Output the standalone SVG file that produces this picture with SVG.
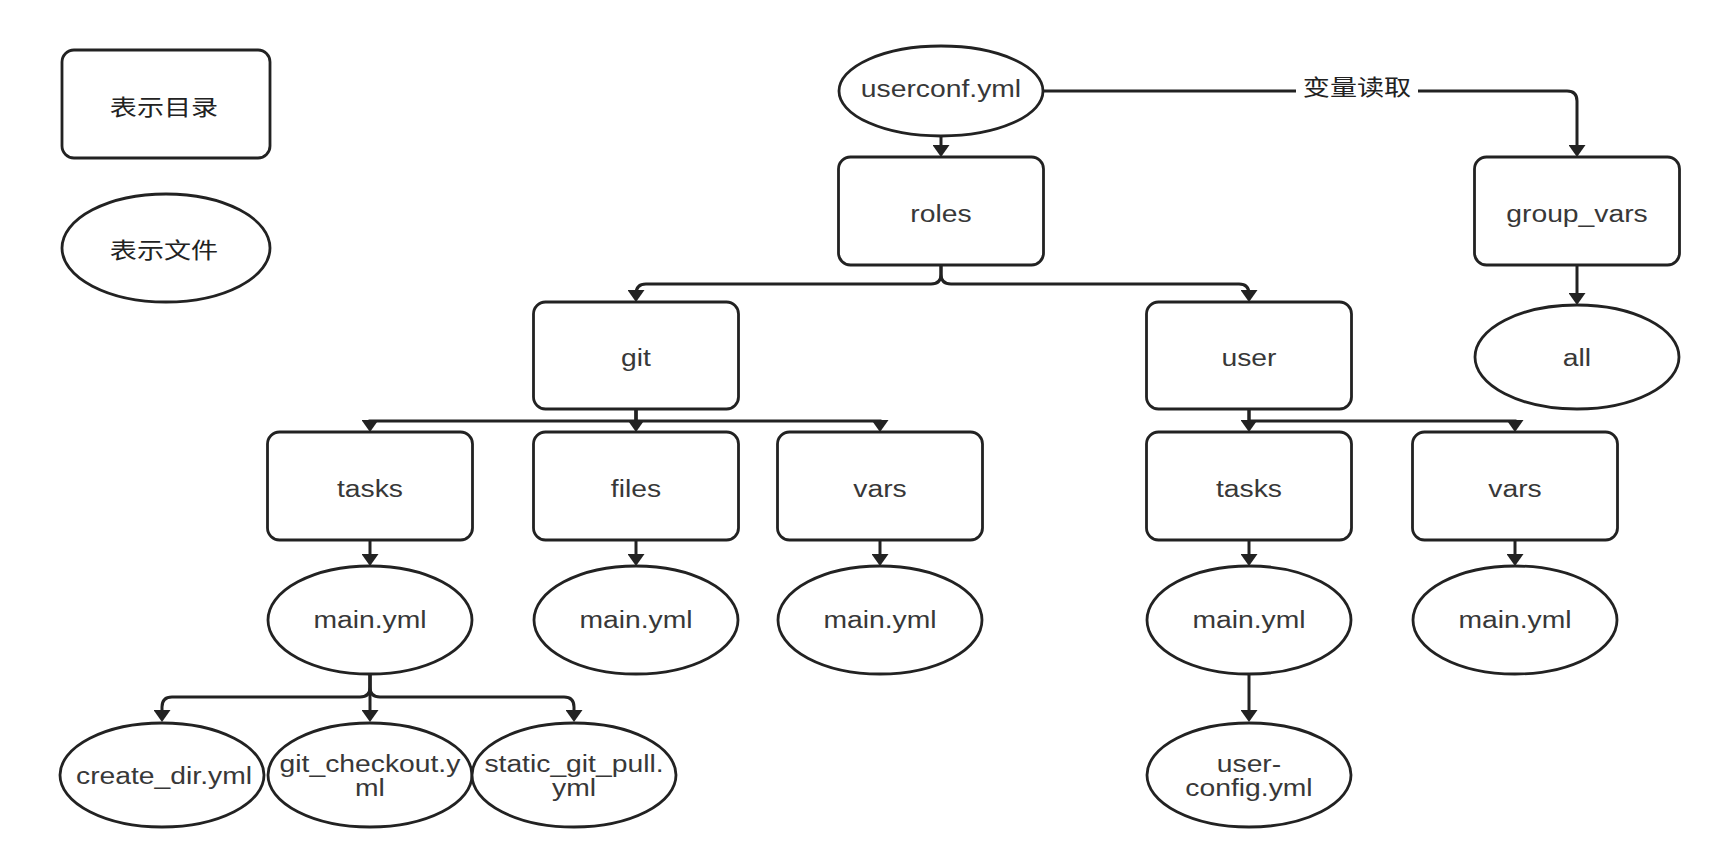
<svg xmlns="http://www.w3.org/2000/svg" width="1725" height="866" viewBox="0 0 1725 866">
<style>
  .box { fill: #ffffff; stroke: #222222; stroke-width: 2.8; }
  .edge { fill: none; stroke: #222222; stroke-width: 3; }
  text { font-family: "Liberation Sans", Arial, "Noto Sans CJK SC", sans-serif; font-size: 23px; fill: #383838; text-anchor: middle; transform-box: fill-box; transform-origin: center; transform: scaleX(1.23); }
  .cjk { font-family: "Liberation Sans", "Noto Sans CJK SC", sans-serif; font-size: 22px; fill: #222222; }
</style>
<defs>
  <marker id="arr" viewBox="0 0 12 17" refX="7" refY="8.5" markerWidth="12" markerHeight="17" orient="auto" markerUnits="userSpaceOnUse">
    <path d="M0,0 L12,8.5 L0,17 z" fill="#222222"/>
  </marker>
</defs>
<rect width="1725" height="866" fill="#ffffff"/>

<g id="connectors">
  <path class="edge" marker-end="url(#arr)" d="M941,136 V152"/>
  <path class="edge" marker-end="url(#arr)" d="M1043,91 H1567 Q1577,91 1577,101 V152"/>
  <path class="edge" marker-end="url(#arr)" d="M941,265 V274 Q941,284 931,284 H646 Q636,284 636,294 V297"/>
  <path class="edge" marker-end="url(#arr)" d="M941,265 V274 Q941,284 951,284 H1239 Q1249,284 1249,294 V297"/>
  <path class="edge" marker-end="url(#arr)" d="M1577,265 V300"/>
  <path class="edge" marker-end="url(#arr)" d="M636,409 V421 H370 V427"/>
  <path class="edge" marker-end="url(#arr)" d="M636,409 V427"/>
  <path class="edge" marker-end="url(#arr)" d="M636,409 V421 H880 V427"/>
  <path class="edge" marker-end="url(#arr)" d="M1249,409 V427"/>
  <path class="edge" marker-end="url(#arr)" d="M1249,409 V421 H1515 V427"/>
  <path class="edge" marker-end="url(#arr)" d="M370,540 V561"/>
  <path class="edge" marker-end="url(#arr)" d="M636,540 V561"/>
  <path class="edge" marker-end="url(#arr)" d="M880,540 V561"/>
  <path class="edge" marker-end="url(#arr)" d="M1249,540 V561"/>
  <path class="edge" marker-end="url(#arr)" d="M1515,540 V561"/>
  <path class="edge" marker-end="url(#arr)" d="M370,674 V687 Q370,697 360,697 H172 Q162,697 162,707 V717"/>
  <path class="edge" marker-end="url(#arr)" d="M370,674 V717"/>
  <path class="edge" marker-end="url(#arr)" d="M370,674 V687 Q370,697 380,697 H564 Q574,697 574,707 V717"/>
  <path class="edge" marker-end="url(#arr)" d="M1249,674 V717"/>
  <rect x="1296" y="74" width="122" height="30" fill="#ffffff"/>
  <text class="cjk" x="1357" y="95">变量读取</text>
</g>

<g id="legend-dir">
  <rect class="box" x="62" y="50" width="208" height="108" rx="12"/>
  <text class="cjk" x="164" y="115">表示目录</text>
</g>
<g id="legend-file">
  <ellipse class="box" cx="166" cy="248" rx="104" ry="54"/>
  <text class="cjk" x="164" y="258">表示文件</text>
</g>

<g id="userconf">
  <ellipse class="box" cx="941" cy="91" rx="102" ry="45"/>
  <text x="941" y="97">userconf.yml</text>
</g>
<g id="roles">
  <rect class="box" x="838.5" y="157" width="205" height="108" rx="12"/>
  <text x="941" y="222">roles</text>
</g>
<g id="group_vars">
  <rect class="box" x="1474.5" y="157" width="205" height="108" rx="12"/>
  <text x="1577" y="222">group_vars</text>
</g>
<g id="all">
  <ellipse class="box" cx="1577" cy="357" rx="102" ry="52"/>
  <text x="1577" y="366">all</text>
</g>
<g id="git">
  <rect class="box" x="533.5" y="302" width="205" height="107" rx="12"/>
  <text x="636" y="366">git</text>
</g>
<g id="user">
  <rect class="box" x="1146.5" y="302" width="205" height="107" rx="12"/>
  <text x="1249" y="366">user</text>
</g>
<g id="git-tasks">
  <rect class="box" x="267.5" y="432" width="205" height="108" rx="12"/>
  <text x="370" y="497">tasks</text>
</g>
<g id="git-files">
  <rect class="box" x="533.5" y="432" width="205" height="108" rx="12"/>
  <text x="636" y="497">files</text>
</g>
<g id="git-vars">
  <rect class="box" x="777.5" y="432" width="205" height="108" rx="12"/>
  <text x="880" y="497">vars</text>
</g>
<g id="user-tasks">
  <rect class="box" x="1146.5" y="432" width="205" height="108" rx="12"/>
  <text x="1249" y="497">tasks</text>
</g>
<g id="user-vars">
  <rect class="box" x="1412.5" y="432" width="205" height="108" rx="12"/>
  <text x="1515" y="497">vars</text>
</g>
<g id="git-tasks-main">
  <ellipse class="box" cx="370" cy="620" rx="102" ry="54"/>
  <text x="370" y="628">main.yml</text>
</g>
<g id="git-files-main">
  <ellipse class="box" cx="636" cy="620" rx="102" ry="54"/>
  <text x="636" y="628">main.yml</text>
</g>
<g id="git-vars-main">
  <ellipse class="box" cx="880" cy="620" rx="102" ry="54"/>
  <text x="880" y="628">main.yml</text>
</g>
<g id="user-tasks-main">
  <ellipse class="box" cx="1249" cy="620" rx="102" ry="54"/>
  <text x="1249" y="628">main.yml</text>
</g>
<g id="user-vars-main">
  <ellipse class="box" cx="1515" cy="620" rx="102" ry="54"/>
  <text x="1515" y="628">main.yml</text>
</g>
<g id="create_dir">
  <ellipse class="box" cx="162" cy="775" rx="102" ry="52"/>
  <text x="164" y="784">create_dir.yml</text>
</g>
<g id="git_checkout">
  <ellipse class="box" cx="370" cy="775" rx="102" ry="52"/>
  <text x="370" y="772"><tspan x="370">git_checkout.y</tspan><tspan x="370" dy="24">ml</tspan></text>
</g>
<g id="static_git_pull">
  <ellipse class="box" cx="574" cy="775" rx="102" ry="52"/>
  <text x="574" y="772"><tspan x="574">static_git_pull.</tspan><tspan x="574" dy="24">yml</tspan></text>
</g>
<g id="user-config">
  <ellipse class="box" cx="1249" cy="775" rx="102" ry="52"/>
  <text x="1249" y="772"><tspan x="1249">user-</tspan><tspan x="1249" dy="24">config.yml</tspan></text>
</g>
</svg>
